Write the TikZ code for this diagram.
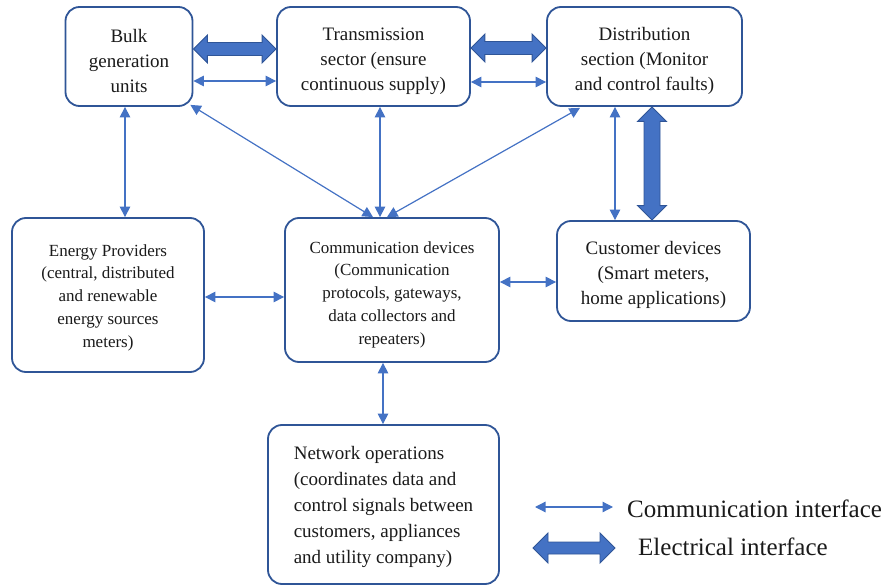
\documentclass[tikz,border=0pt]{standalone}
\usepackage{fontspec}
\setmainfont{Liberation Serif}
\usetikzlibrary{arrows.meta,calc}
\definecolor{boxblue}{HTML}{2F5597}
\definecolor{arrblue}{HTML}{4472C4}
\definecolor{txt}{HTML}{1A1A1A}
\tikzset{
  box/.style={draw=boxblue, line width=1.8pt, rounded corners=14pt, fill=white,
    text=txt, align=center, inner sep=0pt},
  bigtxt/.style={font=\rmfamily\fontsize{19}{25}\selectfont},
  nettxt/.style={font=\rmfamily\fontsize{19}{26}\selectfont},
  smalltxt/.style={font=\rmfamily\fontsize{17}{22.7}\selectfont},
  legtxt/.style={font=\rmfamily\fontsize{25}{30}\selectfont, anchor=base west, inner sep=0pt, text=txt},
  comm/.style={draw=arrblue, line width=1.2pt,
    {Triangle[length=10.5pt,width=10.5pt]}-{Triangle[length=10.5pt,width=10.5pt]}},
  fat/.style={fill=arrblue, draw=boxblue, line width=0.9pt, line join=miter},
}
% horizontal fat double arrow between two points at the same height
\newcommand{\fatH}[4]{% #1 left point, #2 right point, #3 shaft half, #4 head half
  \filldraw[fat] let \p1=#1, \p2=#2 in
  (\x1,\y1) -- (\x1+#4,\y1+#4) -- (\x1+#4,\y1+#3) -- (\x2-#4,\y1+#3) -- (\x2-#4,\y1+#4)
  -- (\x2,\y1) -- (\x2-#4,\y1-#4) -- (\x2-#4,\y1-#3) -- (\x1+#4,\y1-#3) -- (\x1+#4,\y1-#4) -- cycle;}
% vertical fat double arrow, #1 top point, #2 bottom point
\newcommand{\fatV}[4]{%
  \filldraw[fat] let \p1=#1, \p2=#2 in
  (\x1,\y1) -- (\x1+#4,\y1-#4) -- (\x1+#3,\y1-#4) -- (\x1+#3,\y2+#4) -- (\x1+#4,\y2+#4)
  -- (\x1,\y2) -- (\x1-#4,\y2+#4) -- (\x1-#3,\y2+#4) -- (\x1-#3,\y1-#4) -- (\x1-#4,\y1-#4) -- cycle;}
\begin{document}
\begin{tikzpicture}[x=1pt,y=-1pt]
\useasboundingbox (0,0) rectangle (889,585);

\node[box,bigtxt,minimum width=127pt,minimum height=99pt] (bulk) at (129,56.5)
  {\rule{0pt}{22pt}Bulk\\generation\\units};
\node[box,bigtxt,minimum width=193pt,minimum height=99pt] (trans) at (373.5,56.5)
  {\rule{0pt}{22pt}Transmission\\sector (ensure\\continuous supply)};
\node[box,bigtxt,minimum width=195pt,minimum height=99pt] (dist) at (644.5,56.5)
  {\rule{0pt}{22pt}Distribution\\section (Monitor\\and control faults)};
\node[box,smalltxt,minimum width=192pt,minimum height=154pt] (energy) at (108,295)
  {\rule{0pt}{17pt}Energy Providers\\(central, distributed\\and renewable\\energy sources\\meters)};
\node[box,smalltxt,minimum width=214pt,minimum height=144pt] (commdev) at (392,290)
  {\rule{0pt}{21pt}Communication devices\\(Communication\\protocols, gateways,\\data collectors and\\repeaters)};
\node[box,bigtxt,minimum width=193pt,minimum height=100pt] (cust) at (653.5,271)
  {\rule{0pt}{22pt}Customer devices\\(Smart meters,\\home applications)};
\node[box,nettxt,align=left,minimum width=231pt,minimum height=159pt] (netops) at (383.5,504.5)
  {\rule{0pt}{19pt}Network operations\\(coordinates data and\\control signals between\\customers, appliances\\and utility company)};

% electrical interfaces
\fatH{([yshift=7.5pt]bulk.east)}{([yshift=7.5pt]trans.west)}{6.5pt}{14pt}
\fatH{([yshift=8.5pt]trans.east)}{([yshift=8.5pt]dist.west)}{6.5pt}{14pt}
\fatV{([xshift=7.5pt]dist.south)}{([xshift=7.5pt]dist.south |- cust.north)}{8pt}{14.5pt}

% communication interfaces
\draw[comm] ([yshift=-24.5pt]bulk.east) -- ([yshift=-24.5pt]bulk.east -| trans.west);
\draw[comm] ([yshift=-25.5pt]trans.east) -- ([yshift=-25.5pt]trans.east -| dist.west);
\draw[comm] ([xshift=-4pt]bulk.south) -- ([xshift=-4pt]bulk.south |- energy.north);
\draw[comm] ([xshift=6.5pt]trans.south) -- ([xshift=6.5pt]trans.south |- commdev.north);
\draw[comm] ([xshift=-19pt]commdev.north) -- ([xshift=-3pt,yshift=2pt]bulk.south east);
\draw[comm] ([xshift=-5pt]commdev.north) -- ([xshift=-64.5pt,yshift=-1pt]dist.south);
\draw[comm] ([xshift=-29.5pt]dist.south) -- ([xshift=-29.5pt]dist.south |- cust.north);
\draw[comm] ([yshift=-2pt]energy.east) -- ([yshift=-2pt]energy.east -| commdev.west);
\draw[comm] ([yshift=8pt]commdev.east) -- ([yshift=8pt]commdev.east -| cust.west);
\draw[comm] ([xshift=-9pt]commdev.south) -- ([xshift=-9pt]commdev.south |- netops.north);

% legend
\coordinate (l1a) at (535,507);
\coordinate (l1b) at (613,507);
\coordinate (l2a) at (533,548);
\coordinate (l2b) at (615,548);
\draw[comm] (l1a) -- (l1b);
\fatH{(l2a)}{(l2b)}{6pt}{15pt}
\node[legtxt] (lt1) at (627,517) {Communication interface};
\node[legtxt] (lt2) at (638,555) {Electrical interface};
\end{tikzpicture}
\end{document}
